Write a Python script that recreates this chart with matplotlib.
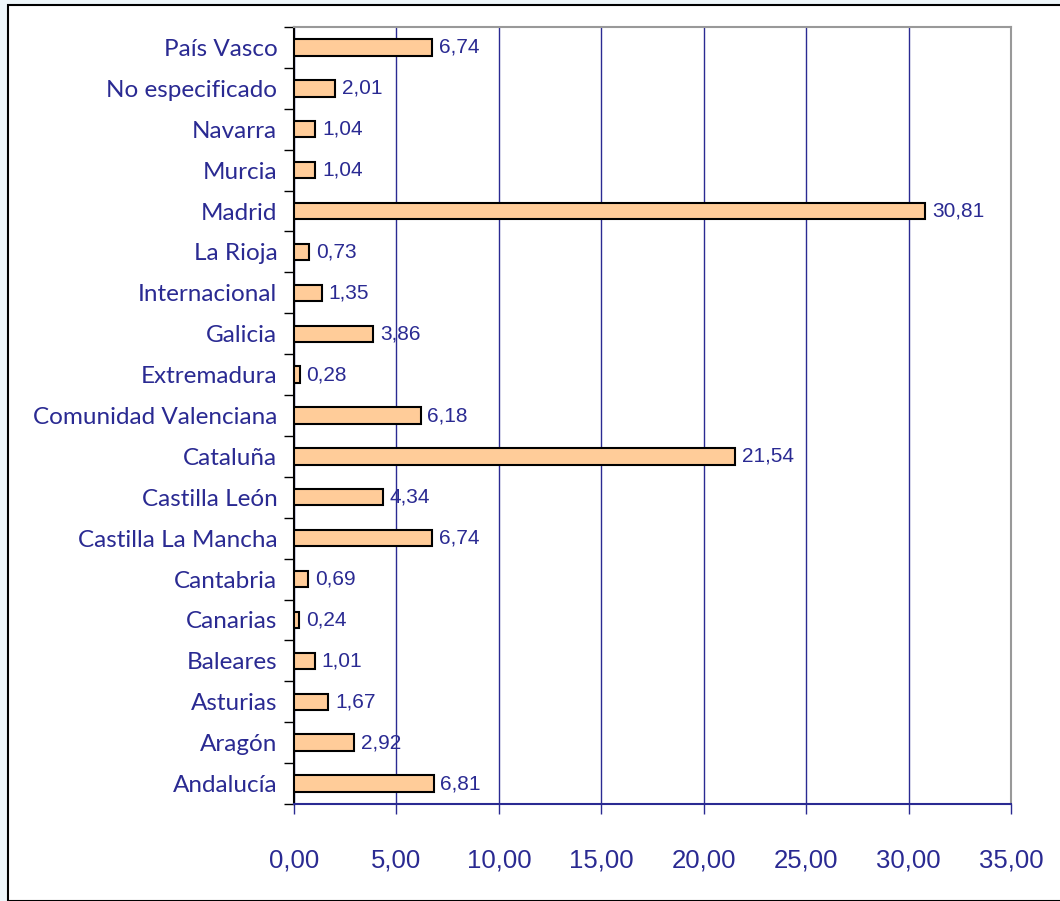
import matplotlib.pyplot as plt
from matplotlib.patches import Rectangle
import numpy as np

regiones = ["Andalucía", "Aragón", "Asturias", "Baleares", "Canarias",
            "Cantabria", "Castilla La Mancha", "Castilla León", "Cataluña",
            "Comunidad Valenciana", "Extremadura", "Galicia", "Internacional",
            "La Rioja", "Madrid", "Murcia", "Navarra", "No especificado",
            "País Vasco"]
porcentajes = [6.81, 2.92, 1.67, 1.01, 0.24, 0.69, 6.74, 4.34, 21.54,
               6.18, 0.28, 3.86, 1.35, 0.73, 30.81, 1.04, 1.04, 2.01, 6.74]
xticks = [0, 5, 10, 15, 20, 25, 30, 35]

navy = "#2a2a92"
numfont = ["Liberation Sans", "DejaVu Sans"]

fig = plt.figure(figsize=(10.6, 9.01), dpi=100)
fig.patch.set_facecolor("#eef6fa")
# white panel with black frame on left/top
fig.patches.append(Rectangle((8 / 1060, 0), 1.1, 1 - 5 / 901, transform=fig.transFigure,
                             facecolor="white", edgecolor="black", linewidth=1.5, zorder=-10))

ax = fig.add_axes([294 / 1060, 1 - 804 / 901, (1011 - 294) / 1060, (804 - 27) / 901])
ax.set_zorder(5)
y = np.arange(len(regiones))
ax.barh(y, porcentajes, height=0.4, color="#ffcc99", edgecolor="black", linewidth=1.5, zorder=3)

for yi, v in zip(y, porcentajes):
    ax.text(v + 0.33, yi, f"{v:.2f}".replace(".", ","), va="center", ha="left",
            fontsize=15, color=navy, family=numfont, zorder=4)

ax.set_xlim(0, 35)
ax.set_ylim(-0.5, len(regiones) - 0.5)
ax.set_xticks(xticks)
ax.set_xticklabels([f"{t:.2f}".replace(".", ",") for t in xticks], fontsize=18.5,
                   color=navy, family=numfont)
ax.set_yticks(y)
ax.set_yticklabels(regiones, fontsize=17.5, color=navy, family=["Lato", "DejaVu Sans"])
ax.set_yticks(np.arange(-0.5, len(regiones)), minor=True)
ax.tick_params(axis="y", which="major", length=0, pad=12)
ax.tick_params(axis="y", which="minor", length=7, width=1, color="black", direction="out")
ax.tick_params(axis="x", length=7, width=1, color=navy, pad=25)

ax.grid(axis="x", color=navy, linewidth=1, zorder=1)
ax.spines["left"].set_color("black")
ax.spines["left"].set_linewidth(1.5)
ax.spines["bottom"].set_color(navy)
ax.spines["bottom"].set_linewidth(1.5)
ax.spines["top"].set_color("#999999")
ax.spines["right"].set_color("#999999")
ax.spines["top"].set_linewidth(1.5)
ax.spines["right"].set_linewidth(1.5)
ax.set_axisbelow(True)

fig.savefig("out.png", dpi=100, facecolor=fig.get_facecolor())
